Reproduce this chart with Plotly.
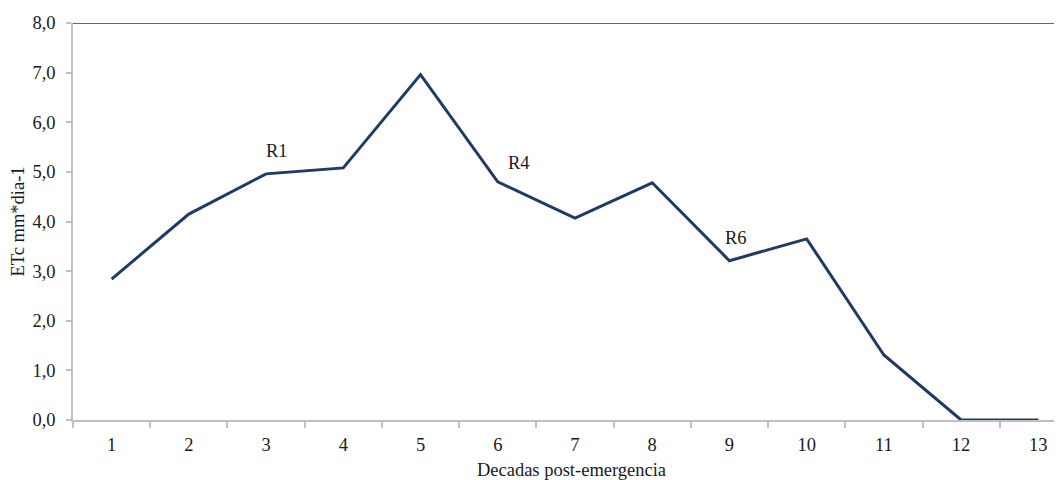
import plotly.graph_objects as go

decadas = ["1", "2", "3", "4", "5", "6", "7", "8", "9", "10", "11", "12", "13"]
etc = [2.84, 4.15, 4.96, 5.08, 6.96, 4.80, 4.07, 4.78, 3.21, 3.65, 1.31, 0.0, 0.0]
y_ticks = [0, 1, 2, 3, 4, 5, 6, 7, 8]
y_labels = ["0,0", "1,0", "2,0", "3,0", "4,0", "5,0", "6,0", "7,0", "8,0"]
stage_labels = ["R1", "R4", "R6"]
stage_x = [2.14, 5.27, 8.08]
stage_y = [5.42, 5.18, 3.67]

font_family = "Liberation Serif, Times New Roman, serif"
fs = 18.5

fig = go.Figure()
fig.add_trace(go.Scatter(
    x=list(range(len(decadas))), y=etc, mode="lines",
    line=dict(color="#1f3a63", width=3), showlegend=False, hoverinfo="skip"))

for lab, sx, sy in zip(stage_labels, stage_x, stage_y):
    fig.add_annotation(x=sx, y=sy, text=lab, showarrow=False,
                       font=dict(family=font_family, size=fs, color="#1a1a1a"))

fig.add_shape(type="line", xref="paper", yref="y", x0=0, x1=1, y0=8, y1=8,
              line=dict(color="#303030", width=1.3))

fig.update_layout(
    width=1062, height=480,
    margin=dict(l=65, r=0, t=15, b=68),
    paper_bgcolor="white", plot_bgcolor="white",
    font=dict(family=font_family, size=fs, color="#1a1a1a"),
    xaxis=dict(
        tickmode="array", tickvals=list(range(len(decadas))), ticktext=decadas,
        range=[-0.5, 12.41], showgrid=False, zeroline=False,
        showline=True, linecolor="#bfbfbf", linewidth=1.5,
        ticks="", ticklabelstandoff=7,
        minor=dict(tickmode="linear", tick0=-0.5, dtick=1, ticks="outside",
                   ticklen=6, tickcolor="#bfbfbf", tickwidth=1.5),
        title=dict(text="Decadas post-emergencia", standoff=9,
                   font=dict(family=font_family, size=fs)),
        tickfont=dict(family=font_family, size=fs),
    ),
    yaxis=dict(
        range=[0, 8], tickmode="array", tickvals=y_ticks, ticktext=y_labels,
        showgrid=False, zeroline=False, showline=True, linecolor="#bfbfbf",
        linewidth=1.5, ticks="outside", ticklen=5, tickcolor="#bfbfbf",
        tickwidth=1.5, ticklabelstandoff=7,
        title=dict(text="ETc mm*dia-1", standoff=4,
                   font=dict(family=font_family, size=fs)),
        tickfont=dict(family=font_family, size=fs),
    ),
)

fig.write_html("out.html")
